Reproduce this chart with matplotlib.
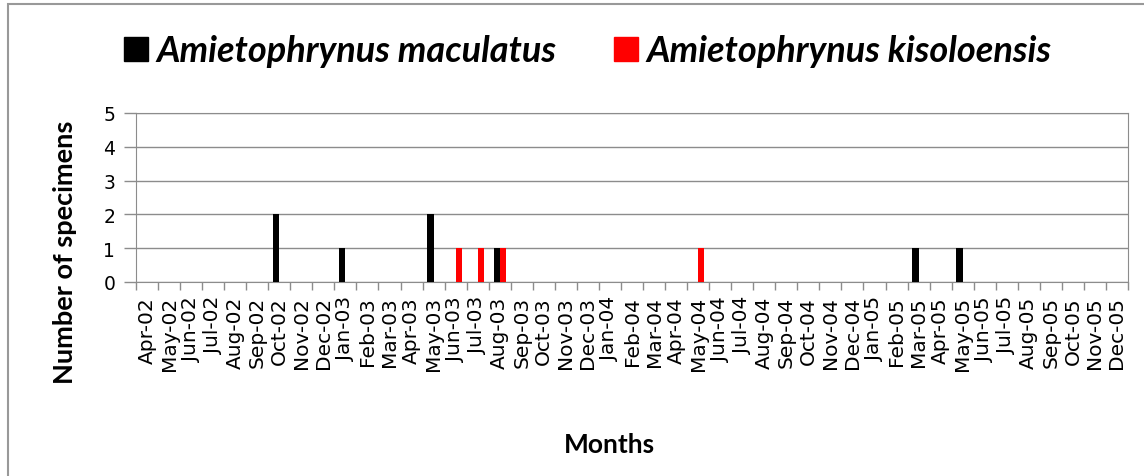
import matplotlib
matplotlib.use('Agg')
import matplotlib.pyplot as plt
import numpy as np
import pandas as pd
from matplotlib.patches import Patch, Rectangle

# month categories Apr-02 .. Dec-05
months = list(pd.date_range('2002-04-01', '2005-12-01', freq='MS').strftime('%b-%y'))

# counts per month (rows: Apr-Mar, Apr-Mar, Apr-Mar, Apr-Dec)
maculatus = ([0, 0, 0, 0, 0, 0, 2, 0, 0, 1, 0, 0] +
             [0, 2, 0, 0, 1, 0, 0, 0, 0, 0, 0, 0] +
             [0, 0, 0, 0, 0, 0, 0, 0, 0, 0, 0, 1] +
             [0, 1, 0, 0, 0, 0, 0, 0, 0])
kisoloensis = ([0, 0, 0, 0, 0, 0, 0, 0, 0, 0, 0, 0] +
               [0, 0, 1, 1, 1, 0, 0, 0, 0, 0, 0, 0] +
               [0, 1, 0, 0, 0, 0, 0, 0, 0, 0, 0, 0] +
               [0, 0, 0, 0, 0, 0, 0, 0, 0])

series_names = ['Amietophrynus maculatus', 'Amietophrynus kisoloensis']
colors = ['black', 'red']
gray = '#8c8c8c'

plt.rcParams['font.family'] = ['Lato', 'DejaVu Sans']

W, H = 1144, 477
fig = plt.figure(figsize=(W/100, H/100), dpi=100)
ax = fig.add_axes([136/W, 1-283/H, (1128-136)/W, (283-114)/H])

x = np.arange(len(months))
w = 0.28
ax.bar(x-0.14, maculatus, w, color=colors[0], zorder=3)
ax.bar(x+0.14, kisoloensis, w, color=colors[1], zorder=3)

ax.set_xlim(-0.5, len(months)-0.5)
ax.set_ylim(0, 5)
ax.set_yticks(range(6))
ax.yaxis.grid(True, color=gray, lw=1)
ax.set_axisbelow(True)

ax.set_xticks(x)
ax.set_xticklabels(months, rotation=90, fontsize=14.5, family='DejaVu Sans')
ax.tick_params(axis='x', which='major', length=0, pad=10)
ax.set_xticks(np.arange(-0.5, len(months)), minor=True)
ax.tick_params(axis='x', which='minor', length=6, color=gray, width=1)
ax.tick_params(axis='y', length=9, color=gray, width=1, labelsize=13.5, pad=6)
for lab in ax.get_yticklabels():
    lab.set_family('DejaVu Sans')
for s in ax.spines.values():
    s.set_color(gray)

handles = [Patch(color=c, label=n) for c, n in zip(colors, series_names)]
fig.legend(handles=handles, loc='center', bbox_to_anchor=(588/W, 1-52/H), ncol=2,
           frameon=False, prop=dict(weight='bold', style='italic', size=26),
           handlelength=0.65, handleheight=0.65, handletextpad=0.25, columnspacing=1.6)

fig.text(609/W, 1-445/H, 'Months', weight='bold', size=19, ha='center', va='center')
fig.text(65/W, 1-252/H, 'Number of specimens', weight='bold', size=19.5,
         rotation=90, ha='center', va='center')

# outer chart border (only top and left are inside the image)
fig.add_artist(Rectangle((8/W, -0.1), 1.2, 1-5/H+0.1, transform=fig.transFigure,
                         fill=False, edgecolor='#999999', lw=1.5))

fig.savefig('out.png', dpi=100)
